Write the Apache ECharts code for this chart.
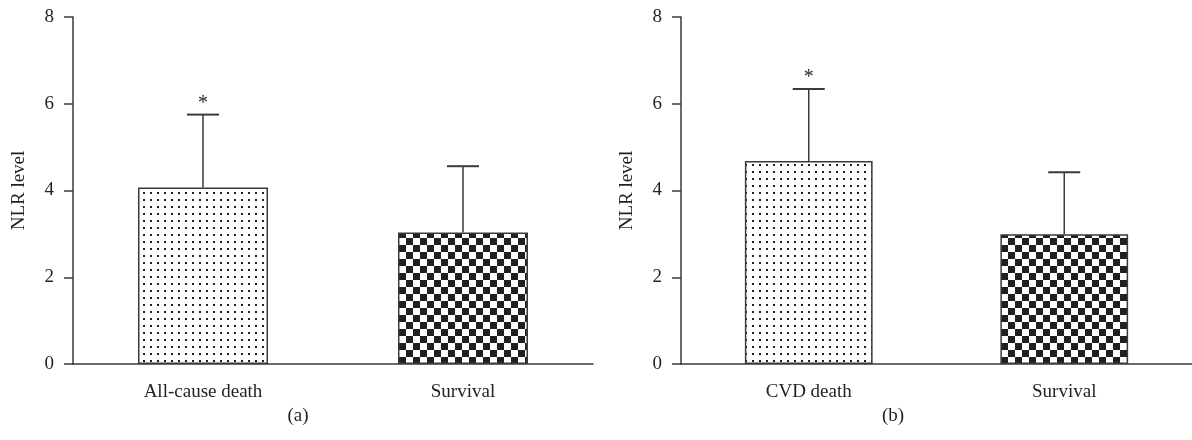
<!DOCTYPE html>
<html><head><meta charset="utf-8">
<script src="https://cdn.jsdelivr.net/npm/echarts@6/dist/echarts.min.js"></script>
<style>html,body{margin:0;padding:0;background:#fff}#c{width:1192px;height:440px}</style>
</head><body><div id="c"></div>
<script>
// ---- data ----
const categoriesA = ['All-cause death', 'Survival'];
const meansA = [4.07, 3.03];
const sdA = [1.68, 1.53];
const sigA = [true, false];

const categoriesB = ['CVD death', 'Survival'];
const meansB = [4.68, 2.99];
const sdB = [1.66, 1.43];
const sigB = [true, false];

const yMin = 0, yMax = 8, yStep = 2;
const yAxisName = 'NLR level';
const panelLabels = ['(a)', '(b)'];

// ---- styles ----
const FONT = 'Liberation Serif';
const INK = '#231f20';
const LINE = '#3a3a3a';

function dotPattern() {
  const c = document.createElement('canvas');
  c.width = 7; c.height = 7;
  const g = c.getContext('2d');
  g.fillStyle = '#fff'; g.fillRect(0, 0, 7, 7);
  g.fillStyle = INK; g.fillRect(3, 3, 2, 2);
  return c;
}
function checkPattern() {
  const c = document.createElement('canvas');
  c.width = 14; c.height = 14;
  const g = c.getContext('2d');
  g.fillStyle = '#fff'; g.fillRect(0, 0, 14, 14);
  g.fillStyle = INK; g.fillRect(0, 0, 7, 7); g.fillRect(7, 7, 7, 7);
  return c;
}
const fills = [
  { image: dotPattern(), repeat: 'repeat' },
  { image: checkPattern(), repeat: 'repeat' }
];

const grids = [
  { left: 73, top: 17, width: 520, height: 347 },
  { left: 681, top: 17, width: 516, height: 347 }
];

function xAxisFor(cats, idx) {
  return {
    type: 'category', gridIndex: idx, data: cats,
    axisLine: { lineStyle: { color: LINE, width: 1.5 } },
    axisTick: { alignWithLabel: true, length: 9, lineStyle: { color: LINE, width: 1.5 } },
    axisLabel: { fontFamily: FONT, fontSize: 19, color: INK, margin: 19 }
  };
}
function yAxisFor(idx) {
  return {
    type: 'value', gridIndex: idx, min: yMin, max: yMax, interval: yStep,
    name: yAxisName, nameLocation: 'middle', nameGap: 44, nameRotate: 90,
    nameTextStyle: { fontFamily: FONT, fontSize: 19, color: INK },
    axisLine: { show: true, lineStyle: { color: LINE, width: 1.5 } },
    axisTick: { show: true, length: 9, lineStyle: { color: LINE, width: 1.5 } },
    axisLabel: { fontFamily: FONT, fontSize: 19, color: INK, margin: 19 },
    splitLine: { show: false }
  };
}
function barSeries(means, idx) {
  return {
    type: 'bar', xAxisIndex: idx, yAxisIndex: idx, barWidth: '50%',
    data: means.map((v, i) => ({
      value: v,
      itemStyle: { color: fills[i], borderColor: LINE, borderWidth: 1.5 }
    })),
    silent: true
  };
}
function errSeries(means, sds, sig, idx) {
  return {
    type: 'custom', xAxisIndex: idx, yAxisIndex: idx, z: 5, silent: true,
    encode: { x: 0, y: 1 },
    data: means.map((m, i) => [i, m, sds[i], sig[i] ? 1 : 0]),
    renderItem: function (params, api) {
      const x = api.value(0), m = api.value(1), sd = api.value(2), s = api.value(3);
      const base = api.coord([x, m]);
      const top = api.coord([x, m + sd]);
      const half = 16;
      const children = [
        { type: 'line', shape: { x1: base[0], y1: base[1], x2: top[0], y2: top[1] },
          style: { stroke: LINE, lineWidth: 1.5 } },
        { type: 'line', shape: { x1: top[0] - half, y1: top[1], x2: top[0] + half, y2: top[1] },
          style: { stroke: LINE, lineWidth: 2 } }
      ];
      if (s) {
        children.push({ type: 'text', x: top[0], y: top[1] - 11,
          style: { text: '*', align: 'center', verticalAlign: 'middle',
            font: '20px ' + FONT, fill: INK } });
      }
      return { type: 'group', children: children };
    }
  };
}

const chart = echarts.init(document.getElementById('c'), null, { renderer: 'canvas' });
chart.setOption({
  backgroundColor: '#fff',
  animation: false,
  grid: grids,
  xAxis: [xAxisFor(categoriesA, 0), xAxisFor(categoriesB, 1)],
  yAxis: [yAxisFor(0), yAxisFor(1)],
  series: [
    barSeries(meansA, 0), errSeries(meansA, sdA, sigA, 0),
    barSeries(meansB, 1), errSeries(meansB, sdB, sigB, 1)
  ],
  graphic: [
    { type: 'text', x: 298, y: 416, style: { text: panelLabels[0], align: 'center', verticalAlign: 'middle', font: '19px ' + FONT, fill: INK } },
    { type: 'text', x: 893, y: 416, style: { text: panelLabels[1], align: 'center', verticalAlign: 'middle', font: '19px ' + FONT, fill: INK } }
  ]
});
</script>
</body></html>
